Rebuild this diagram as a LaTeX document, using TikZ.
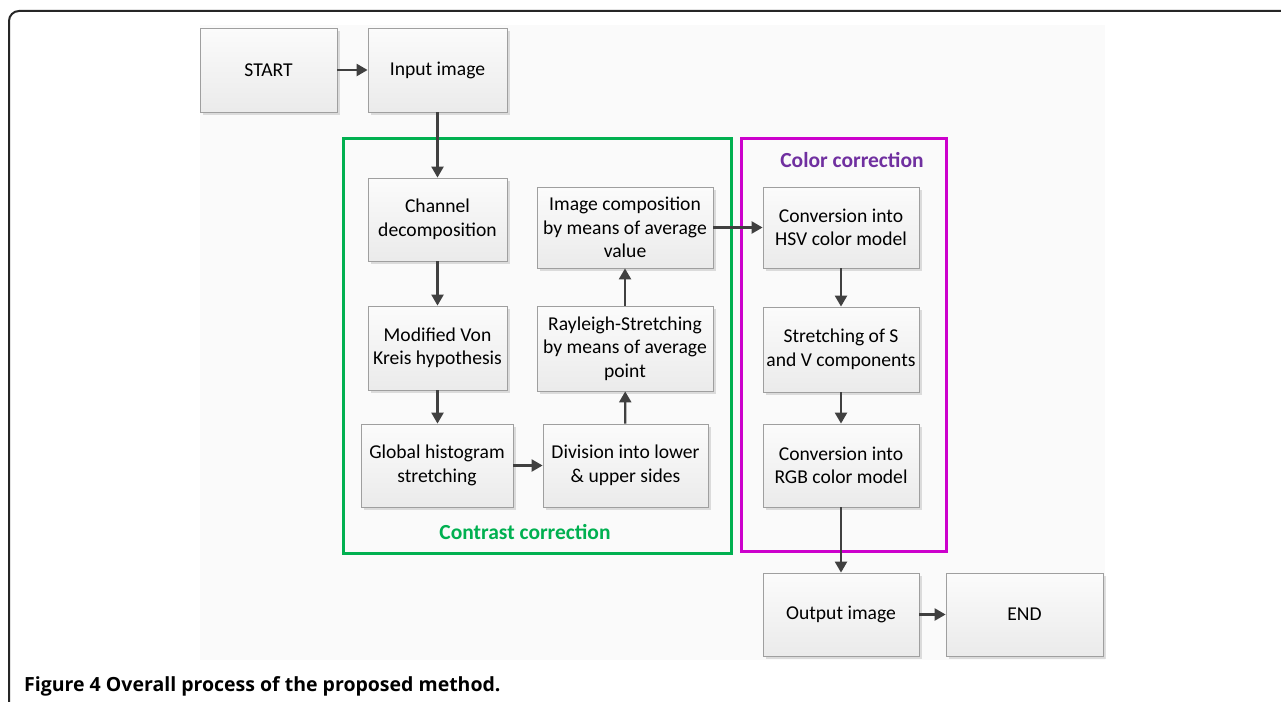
\documentclass[tikz,border=0pt]{standalone}
\usepackage{fontspec}
\setmainfont{Carlito}
\newfontfamily\capfont{Open Sans}
\usetikzlibrary{arrows.meta,shadows}
\definecolor{cgreen}{HTML}{00B050}
\definecolor{cmag}{HTML}{CC00CC}
\definecolor{cpurple}{HTML}{7030A0}
\definecolor{arrowgray}{HTML}{404040}
\definecolor{bggray}{HTML}{FAFAFA}
\begin{document}
\begin{tikzpicture}[x=1pt,y=-1pt,
  proc/.style={draw=gray!75, line width=0.8pt, top color=gray!3, bottom color=gray!16,
    align=center, inner sep=2pt, font=\fontsize{19.6}{23.5}\selectfont,
    drop shadow={shadow xshift=3pt, shadow yshift=-3pt, fill=black, opacity=0.12}},
  flow/.style={draw=arrowgray, line width=2.3pt, -{Triangle[length=11pt,width=12pt]}},
  grp/.style={line width=3pt},
  grplabel/.style={font=\bfseries\fontsize{21.5}{25}\selectfont}
]
\useasboundingbox (0,0) rectangle (1281,701);
\fill[white] (0,0) rectangle (1281,701);
\fill[bggray] (200,25) rectangle (1105,660);
% frame
\draw[line width=2pt, black!85, rounded corners=10pt] (9,720) -- (9,11) -- (1295,11);

% group frames
\draw[grp, cgreen] (343,138) rectangle (731,553);
\draw[grp, cmag] (741,138) rectangle (946,551);
\node[grplabel, text=cgreen] (lc) at (525,532) {Contrast correction};
\node[grplabel, text=cpurple] (lcol) at (852,160) {Color correction};

% boxes
\node[proc, minimum width=137pt, minimum height=84pt] (start) at (268.5,70) {START};
\node[proc, minimum width=139pt, minimum height=84pt] (input) at (437.5,70) {Input image};
\node[proc, minimum width=139pt, minimum height=83pt] (chan) at (437.5,219.5) {Channel\\decomposition};
\node[proc, minimum width=139pt, minimum height=84pt] (vonk) at (437.5,348) {Modified Von\\Kreis hypothesis};
\node[proc, minimum width=152pt, minimum height=83pt] (glob) at (437,465.5) {Global histogram\\stretching};
\node[proc, minimum width=165pt, minimum height=83pt] (div) at (625.5,465.5) {Division into lower\\\& upper sides};
\node[proc, minimum width=176pt, minimum height=85pt] (ray) at (625,348.5) {Rayleigh-Stretching\\by means of average\\point};
\node[proc, minimum width=176pt, minimum height=81pt] (comp) at (625,227.5) {Image composition\\by means of average\\value};
\node[proc, minimum width=156pt, minimum height=81pt] (hsv) at (841,227.5) {Conversion into\\HSV color model};
\node[proc, minimum width=156pt, minimum height=85pt] (sv) at (841,349.5) {Stretching of S\\and V components};
\node[proc, minimum width=156pt, minimum height=83pt] (rgb) at (841,465.5) {Conversion into\\RGB color model};
\node[proc, minimum width=156pt, minimum height=83pt] (out) at (841,614.5) {Output image};
\node[proc, minimum width=157pt, minimum height=83pt] (end) at (1024.5,614.5) {END};

% connectors
\draw[flow] (start) -- (input);
\draw[flow] (input) -- (chan);
\draw[flow] (chan) -- (vonk);
\draw[flow] (vonk) -- (vonk |- glob.north);
\draw[flow] (glob) -- (div);
\draw[flow] (div) -- (ray);
\draw[flow] (ray) -- (comp);
\draw[flow] (comp) -- (hsv);
\draw[flow] (hsv) -- (sv);
\draw[flow] (sv) -- (rgb);
\draw[flow] (rgb) -- (out);
\draw[flow] (out) -- (end);

% caption
\node[anchor=base west, inner sep=0pt, font=\capfont\bfseries\fontsize{19.5}{22}\selectfont] (cap) at (24,691) {Figure 4 Overall process of the proposed method.};
\end{tikzpicture}
\end{document}
